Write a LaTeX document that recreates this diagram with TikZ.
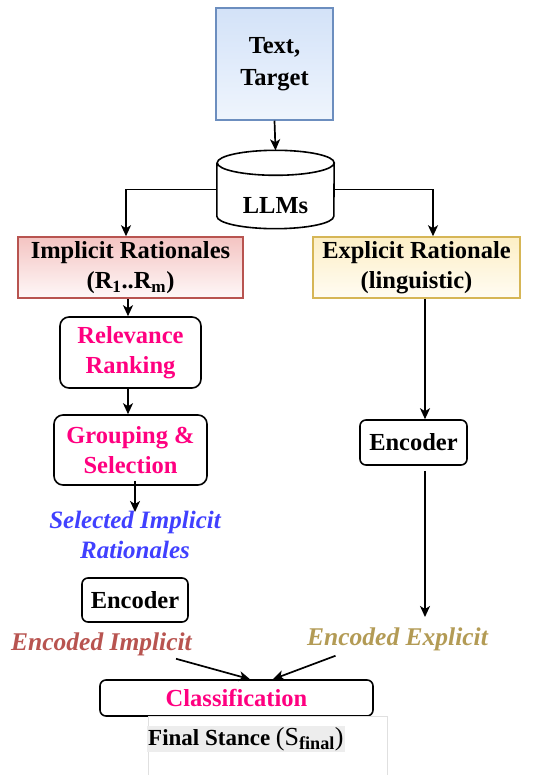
\documentclass[tikz,border=0pt]{standalone}
\usepackage{fontspec}
\setmainfont{Liberation Serif}
\usetikzlibrary{arrows.meta,calc}

\definecolor{hotpink}{HTML}{FF0080}
\definecolor{selblue}{HTML}{4040FF}
\definecolor{implred}{HTML}{B85450}
\definecolor{explgold}{HTML}{B39B55}
\definecolor{inblue}{HTML}{6C8EBF}
\definecolor{inbluetop}{HTML}{D3E2F8}
\definecolor{inbluebot}{HTML}{EFF5FD}
\definecolor{redtop}{HTML}{F4C4C2}
\definecolor{redbot}{HTML}{FEF8F8}
\definecolor{expyel}{HTML}{D6B656}
\definecolor{yeltop}{HTML}{FDEFC6}
\definecolor{yelbot}{HTML}{FFFCF3}

\begin{document}
\begin{tikzpicture}[
  x=1pt,y=1pt,
  font=\fontsize{24.5}{30}\selectfont\bfseries,
  >={Stealth[length=11pt,width=10pt,inset=3pt]},
  lnk/.style={->,line width=1.7pt},
  src/.style={draw=#1,line width=1.5pt,align=center,inner sep=2pt},
  proc/.style={draw,rounded corners=9pt,line width=1.6pt,align=center,text=hotpink,minimum width=#1},
  enc/.style={draw,rounded corners=6pt,line width=1.6pt,minimum width=106pt,minimum height=44pt},
  emb/.style={font=\fontsize{25.5}{30}\selectfont\bfseries\itshape,align=center,inner sep=1pt,text=#1}
]
\useasboundingbox (0,0) rectangle (535,-775);

% input and the LLM store
\node[src=inblue,top color=inbluetop,bottom color=inbluebot,minimum width=117pt,minimum height=112pt] (txt) at (274.5,-64) {Text,\\[2pt]Target};
\node[minimum width=117pt,minimum height=78pt] (llm) at (275.5,-189.5) {};
\draw[line width=1.6pt,fill=white] ([yshift=-12.5pt]llm.north west) -- ([yshift=12.5pt]llm.south west)
  arc[start angle=180,end angle=360,x radius=58.5pt,y radius=12.5pt] -- ([yshift=-12.5pt]llm.north east)
  arc[start angle=0,end angle=180,x radius=58.5pt,y radius=12.5pt]
  arc[start angle=180,end angle=360,x radius=58.5pt,y radius=12.5pt];
\node (llmtxt) at (275.5,-206) {LLMs};

% the two kinds of rationale
\node[src=implred,top color=redtop,bottom color=redbot,minimum width=225pt,minimum height=61pt] (imp) at (130.5,-267.5) {Implicit Rationales\\(R\textsubscript{1}..R\textsubscript{m})};
\node[src=expyel,top color=yeltop,bottom color=yelbot,minimum width=207pt,minimum height=61pt] (exp) at (416.5,-267.5) {Explicit Rationale\\(linguistic)};

% implicit branch
\node[proc=141pt,minimum height=71pt] (rel) at (130.5,-352.5) {Relevance\\Ranking};
\node[proc=153pt,minimum height=70pt] (grp) at (130.5,-450) {Grouping \&\\Selection};
\node[emb=selblue,font=\fontsize{25}{30}\selectfont\bfseries\itshape] (sel) at (135,-535) {Selected Implicit\\Rationales};
\node[enc] (enci) at (135,-600) {Encoder};
\node[emb=implred] (encI) at (101.5,-644) {Encoded Implicit};

% explicit branch
\node[enc,minimum width=107pt,minimum height=45pt] (ence) at (413.5,-442.5) {Encoder};
\node[emb=explgold] (encE) at (397.5,-639) {Encoded Explicit};
\coordinate (encEin) at (425,-617);

% classifier and output
\node[proc=273pt,minimum height=36pt,rounded corners=6pt] (cls) at (236.5,-698) {Classification};
\node[draw=black!12,line width=0.8pt,minimum width=239pt,minimum height=80pt,anchor=north west] (final) at (148,-716) {};
\node[fill=black!7,inner sep=1pt,anchor=base west,font=\fontsize{23}{26}\selectfont\bfseries] (stance) at (147,-745)
  {Final Stance {\fontsize{26}{28}\selectfont\mdseries(S\textsubscript{\bfseries final})}};

\draw[lnk] (txt.south) -- (llm.north);
\draw[lnk] (llm.west) -| ([xshift=-4.5pt]imp.north);
\draw[lnk] (llm.east) -| ([xshift=16.5pt]exp.north);
\draw[lnk] ([xshift=-2.5pt]imp.south) -- ([xshift=-2.5pt]rel.north);
\draw[lnk] ([xshift=-2.5pt]rel.south) -- ([xshift=-2.5pt]grp.north);
\draw[lnk] ([yshift=5pt]grp.south -| sel.north) -- ([yshift=-2pt]sel.north);
\draw[lnk] ([xshift=8.5pt]exp.south) -- ([xshift=11.5pt]ence.north);
\draw[lnk] ([xshift=11.5pt,yshift=-5pt]ence.south) -- (encEin);
\draw[lnk] ([xshift=-17pt,yshift=-2pt]encI.south east) -- ([xshift=13.5pt]cls.north);
\draw[lnk] ([xshift=-62pt,yshift=-4pt]encE.south) -- ([xshift=36.5pt]cls.north);
\end{tikzpicture}
\end{document}
